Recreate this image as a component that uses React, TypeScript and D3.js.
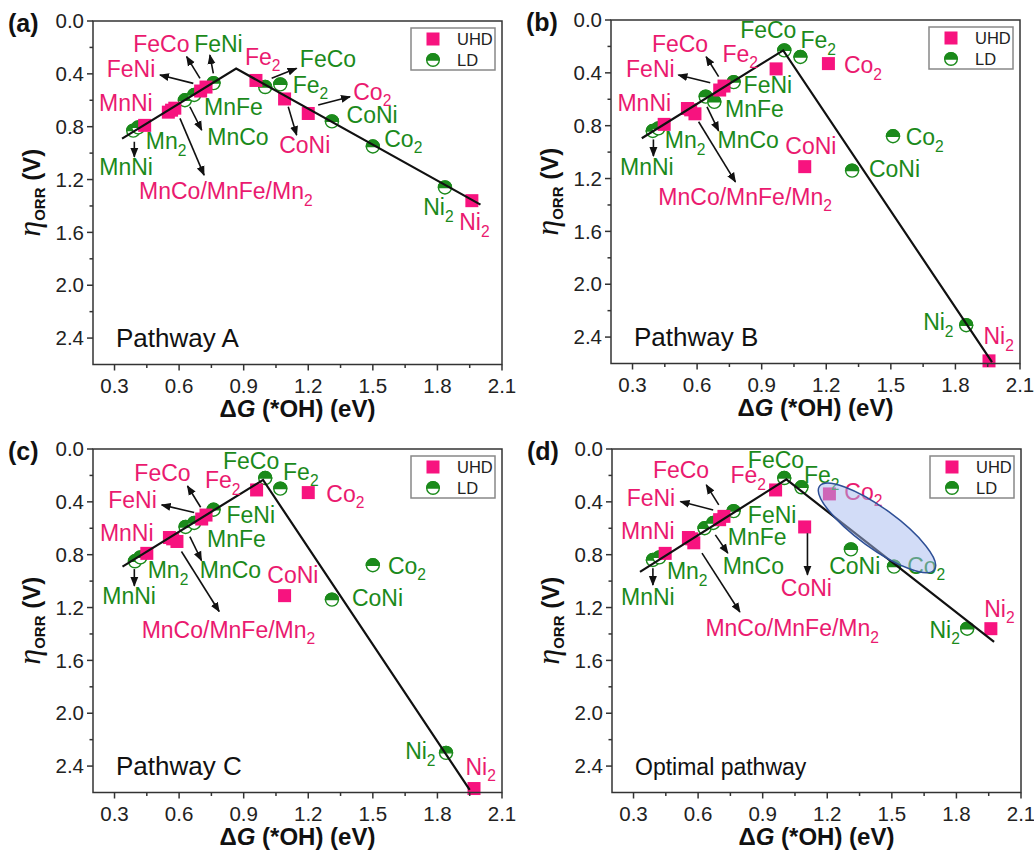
import React from "react";
import * as d3 from "d3";

// ---- data (ΔG(*OH) in eV, η_ORR in V) ----
const xTicks = [0.3, 0.6, 0.9, 1.2, 1.5, 1.8, 2.1];
const yTicks = [0.0, 0.4, 0.8, 1.2, 1.6, 2.0, 2.4];
const xMinor = [0.45, 0.75, 1.05, 1.35, 1.65, 1.95];
const yMinor = [0.2, 0.6, 1.0, 1.4, 1.8, 2.2];

const uhdA = [
  { n: "MnNi", x: 0.44, y: 0.79 }, { n: "MnCo", x: 0.55, y: 0.69 }, { n: "MnFe", x: 0.565, y: 0.675 },
  { n: "Mn2", x: 0.58, y: 0.66 }, { n: "FeNi", x: 0.70, y: 0.53 }, { n: "FeCo", x: 0.725, y: 0.50 },
  { n: "Fe2", x: 0.957, y: 0.45 }, { n: "CoNi", x: 1.09, y: 0.59 }, { n: "Co2", x: 1.20, y: 0.70 },
  { n: "Ni2", x: 1.96, y: 1.36 },
];
const ldA = [
  { n: "MnNi", x: 0.387, y: 0.83 }, { n: "Mn2", x: 0.41, y: 0.805 }, { n: "MnCo", x: 0.627, y: 0.60 },
  { n: "MnFe", x: 0.67, y: 0.56 }, { n: "FeNi", x: 0.76, y: 0.47 }, { n: "FeCo", x: 1.0, y: 0.50 },
  { n: "Fe2", x: 1.07, y: 0.48 }, { n: "CoNi", x: 1.31, y: 0.76 }, { n: "Co2", x: 1.50, y: 0.95 },
  { n: "Ni2", x: 1.835, y: 1.26 },
];
const uhdB = [
  { n: "MnNi", x: 0.447, y: 0.79 }, { n: "MnCo", x: 0.555, y: 0.67 }, { n: "MnFe", x: 0.57, y: 0.68 },
  { n: "Mn2", x: 0.59, y: 0.71 }, { n: "FeNi", x: 0.705, y: 0.53 }, { n: "FeCo", x: 0.725, y: 0.50 },
  { n: "Fe2", x: 0.967, y: 0.37 }, { n: "Co2", x: 1.21, y: 0.33 }, { n: "CoNi", x: 1.10, y: 1.11 },
  { n: "Ni2", x: 1.956, y: 2.58 },
];
const ldB = [
  { n: "MnNi", x: 0.394, y: 0.84 }, { n: "Mn2", x: 0.42, y: 0.82 }, { n: "MnCo", x: 0.64, y: 0.58 },
  { n: "MnFe", x: 0.68, y: 0.62 }, { n: "FeNi", x: 0.77, y: 0.47 }, { n: "FeCo", x: 1.005, y: 0.23 },
  { n: "Fe2", x: 1.08, y: 0.28 }, { n: "Co2", x: 1.51, y: 0.88 }, { n: "CoNi", x: 1.32, y: 1.14 },
  { n: "Ni2", x: 1.85, y: 2.31 },
];
const uhdC = [
  { n: "MnNi", x: 0.45, y: 0.79 }, { n: "MnCo", x: 0.555, y: 0.67 }, { n: "MnFe", x: 0.57, y: 0.68 },
  { n: "Mn2", x: 0.59, y: 0.70 }, { n: "FeNi", x: 0.705, y: 0.53 }, { n: "FeCo", x: 0.725, y: 0.50 },
  { n: "Fe2", x: 0.96, y: 0.31 }, { n: "Co2", x: 1.20, y: 0.33 }, { n: "CoNi", x: 1.09, y: 1.11 },
  { n: "Ni2", x: 1.97, y: 2.57 },
];
const ldC = [
  { n: "MnNi", x: 0.395, y: 0.85 }, { n: "Mn2", x: 0.42, y: 0.82 }, { n: "MnCo", x: 0.63, y: 0.59 },
  { n: "MnFe", x: 0.67, y: 0.56 }, { n: "FeNi", x: 0.76, y: 0.46 }, { n: "FeCo", x: 1.0, y: 0.22 },
  { n: "Fe2", x: 1.07, y: 0.30 }, { n: "Co2", x: 1.50, y: 0.88 }, { n: "CoNi", x: 1.31, y: 1.14 },
  { n: "Ni2", x: 1.84, y: 2.30 },
];
const uhdD = [
  { n: "MnNi", x: 0.447, y: 0.79 }, { n: "MnCo", x: 0.555, y: 0.67 }, { n: "MnFe", x: 0.57, y: 0.68 },
  { n: "Mn2", x: 0.58, y: 0.71 }, { n: "FeNi", x: 0.70, y: 0.535 }, { n: "FeCo", x: 0.72, y: 0.51 },
  { n: "Fe2", x: 0.96, y: 0.31 }, { n: "Co2", x: 1.21, y: 0.34 }, { n: "CoNi", x: 1.095, y: 0.59 },
  { n: "Ni2", x: 1.96, y: 1.36 },
];
const ldD = [
  { n: "MnNi", x: 0.39, y: 0.84 }, { n: "Mn2", x: 0.42, y: 0.82 }, { n: "MnCo", x: 0.63, y: 0.60 },
  { n: "MnFe", x: 0.67, y: 0.56 }, { n: "FeNi", x: 0.765, y: 0.47 }, { n: "FeCo", x: 1.0, y: 0.22 },
  { n: "Fe2", x: 1.08, y: 0.29 }, { n: "CoNi", x: 1.31, y: 0.76 }, { n: "Co2", x: 1.51, y: 0.89 },
  { n: "Ni2", x: 1.85, y: 1.36 },
];

// volcano lines
const lineA = [[0.335, 0.89], [0.865, 0.36], [2.0, 1.39]];
const lineB = [[0.343, 0.895], [1.0, 0.23], [1.97, 2.59]];
const lineC = [[0.337, 0.89], [0.99, 0.234], [1.95, 2.58]];
const lineD = [[0.33, 0.93], [1.01, 0.23], [1.975, 1.46]];

// text labels: text, x, y (left / baseline), u = UHD colour
const labelsA = [
  { t: "FeCo", x: 0.387, y: 0.232, u: 1 }, { t: "FeNi", x: 0.67, y: 0.232, u: 0 },
  { t: "Fe2", x: 0.906, y: 0.333, u: 1 }, { t: "FeCo", x: 1.161, y: 0.346, u: 0 },
  { t: "FeNi", x: 0.264, y: 0.427, u: 1 }, { t: "Fe2", x: 1.128, y: 0.543, u: 0 },
  { t: "Co2", x: 1.409, y: 0.598, u: 1 }, { t: "MnNi", x: 0.228, y: 0.682, u: 1 },
  { t: "MnFe", x: 0.716, y: 0.712, u: 0 }, { t: "CoNi", x: 1.378, y: 0.775, u: 0 },
  { t: "MnCo", x: 0.731, y: 0.939, u: 0 }, { t: "Mn2", x: 0.445, y: 0.972, u: 0 },
  { t: "CoNi", x: 1.065, y: 1.0, u: 1 }, { t: "Co2", x: 1.553, y: 0.952, u: 0 },
  { t: "MnNi", x: 0.229, y: 1.167, u: 0 }, { t: "MnCo/MnFe/Mn2", x: 0.414, y: 1.348, u: 1 },
  { t: "Ni2", x: 1.734, y: 1.47, u: 0 }, { t: "Ni2", x: 1.901, y: 1.583, u: 1 },
];
const labelsB = [
  { t: "FeCo", x: 0.80, y: 0.139, u: 0 }, { t: "Fe2", x: 1.08, y: 0.215, u: 0 },
  { t: "FeCo", x: 0.39, y: 0.24, u: 1 }, { t: "Fe2", x: 0.718, y: 0.316, u: 1 },
  { t: "Co2", x: 1.282, y: 0.404, u: 1 }, { t: "FeNi", x: 0.27, y: 0.434, u: 1 },
  { t: "FeNi", x: 0.816, y: 0.55, u: 0 }, { t: "MnNi", x: 0.23, y: 0.69, u: 1 },
  { t: "MnFe", x: 0.73, y: 0.732, u: 0 }, { t: "Co2", x: 1.569, y: 0.947, u: 0 },
  { t: "MnCo", x: 0.695, y: 0.972, u: 0 }, { t: "Mn2", x: 0.45, y: 0.972, u: 0 },
  { t: "CoNi", x: 1.01, y: 1.015, u: 1 }, { t: "MnNi", x: 0.242, y: 1.174, u: 0 },
  { t: "CoNi", x: 1.398, y: 1.187, u: 0 }, { t: "MnCo/MnFe/Mn2", x: 0.42, y: 1.40, u: 1 },
  { t: "Ni2", x: 1.65, y: 2.348, u: 0 }, { t: "Ni2", x: 1.93, y: 2.455, u: 1 },
];
const labelsC = [
  { t: "FeCo", x: 0.804, y: 0.154, u: 0 }, { t: "Fe2", x: 1.083, y: 0.234, u: 0 },
  { t: "FeCo", x: 0.392, y: 0.242, u: 1 }, { t: "Fe2", x: 0.72, y: 0.297, u: 1 },
  { t: "Co2", x: 1.284, y: 0.398, u: 1 }, { t: "FeNi", x: 0.271, y: 0.448, u: 1 },
  { t: "FeNi", x: 0.82, y: 0.562, u: 0 }, { t: "MnNi", x: 0.232, y: 0.693, u: 1 },
  { t: "MnFe", x: 0.73, y: 0.738, u: 0 }, { t: "Co2", x: 1.57, y: 0.945, u: 0 },
  { t: "MnCo", x: 0.696, y: 0.977, u: 0 }, { t: "Mn2", x: 0.454, y: 0.977, u: 0 },
  { t: "CoNi", x: 1.01, y: 1.015, u: 1 }, { t: "MnNi", x: 0.243, y: 1.174, u: 0 },
  { t: "CoNi", x: 1.403, y: 1.192, u: 0 }, { t: "MnCo/MnFe/Mn2", x: 0.426, y: 1.431, u: 1 },
  { t: "Ni2", x: 1.65, y: 2.35, u: 0 }, { t: "Ni2", x: 1.93, y: 2.464, u: 1 },
];
const labelsD = [
  { t: "FeCo", x: 0.831, y: 0.141, u: 0 }, { t: "Fe2", x: 1.092, y: 0.26, u: 0 },
  { t: "FeCo", x: 0.39, y: 0.222, u: 1 }, { t: "Fe2", x: 0.75, y: 0.26, u: 1 },
  { t: "Co2", x: 1.279, y: 0.386, u: 1 }, { t: "FeNi", x: 0.268, y: 0.431, u: 1 },
  { t: "FeNi", x: 0.831, y: 0.562, u: 0 }, { t: "MnNi", x: 0.242, y: 0.683, u: 1 },
  { t: "MnFe", x: 0.738, y: 0.726, u: 0 }, { t: "MnCo", x: 0.714, y: 0.947, u: 0 },
  { t: "CoNi", x: 1.209, y: 0.945, u: 0 }, { t: "Co2", x: 1.571, y: 0.945, u: 0 },
  { t: "Mn2", x: 0.455, y: 0.985, u: 0 }, { t: "CoNi", x: 0.984, y: 1.116, u: 1 },
  { t: "MnNi", x: 0.242, y: 1.179, u: 0 }, { t: "Ni2", x: 1.929, y: 1.268, u: 1 },
  { t: "MnCo/MnFe/Mn2", x: 0.634, y: 1.419, u: 1 }, { t: "Ni2", x: 1.675, y: 1.431, u: 0 },
];

// arrows [x1, y1, x2, y2]
const arrowsA = [
  [0.392, 0.914, 0.392, 1.028], [0.666, 0.472, 0.511, 0.409], [0.697, 0.434, 0.635, 0.27],
  [0.759, 0.396, 0.743, 0.258], [1.03, 0.434, 1.146, 0.358], [0.65, 0.649, 0.705, 0.826],
  [0.604, 0.737, 0.716, 1.167], [1.107, 0.649, 1.146, 0.864], [1.246, 0.636, 1.394, 0.573],
];
const arrowsB = [
  [0.397, 0.904, 0.397, 1.03], [0.661, 0.475, 0.513, 0.417], [0.70, 0.429, 0.642, 0.278],
  [0.646, 0.657, 0.70, 0.839], [0.607, 0.77, 0.778, 1.225],
];
const arrowsC = [
  [0.392, 0.909, 0.392, 1.036], [0.67, 0.481, 0.519, 0.423], [0.70, 0.441, 0.639, 0.28],
  [0.65, 0.663, 0.704, 0.844], [0.611, 0.776, 0.786, 1.23],
];
const arrowsD = [
  [0.39, 0.902, 0.39, 1.03], [0.67, 0.461, 0.518, 0.398], [0.696, 0.423, 0.638, 0.272],
  [0.68, 0.65, 0.738, 0.788], [0.618, 0.788, 0.794, 1.234], [1.108, 0.637, 1.108, 0.952],
];

const highlightD = { x: 1.431, y: 0.597 };

const PINK = "#f7137f";
const PINK_TXT = "#ea1a6f";
const GREEN = "#1b8a1b";
const FONT = "'Liberation Sans', Arial, sans-serif";

const W = 409;
const H = 343.5;

function Label({ x, y, text, color, size }) {
  const m = text.match(/^(.*?)(\d)$/);
  return (
    <text x={x} y={y} fill={color} fontSize={size} fontFamily={FONT}>
      {m ? (
        <>
          {m[1]}
          <tspan fontSize={size * 0.68} dy={size * 0.28}>{m[2]}</tspan>
        </>
      ) : text}
    </text>
  );
}

function LDMark({ cx, cy, r }) {
  return (
    <g>
      <circle cx={cx} cy={cy} r={r} fill="white" stroke={GREEN} strokeWidth={1.4} />
      <path d={`M${cx - r},${cy} A${r},${r} 0 0 1 ${cx + r},${cy} Z`} fill={GREEN} stroke={GREEN} strokeWidth={1.4} />
    </g>
  );
}

function Panel({ left, top, tag, uhd, ld, line, labels, arrows, note, noteSize, ellipse }) {
  const x = d3.scaleLinear().domain([0.2, 2.1]).range([left, left + W]);
  const y = d3.scaleLinear().domain([0, 2.6]).range([top, top + H]);
  const path = d3.line().x((d) => x(d[0])).y((d) => y(d[1]))(line);
  const bottom = top + H;
  const right = left + W;

  return (
    <g>
      <text x={left - 85} y={top + 11} fontSize={25} fontWeight="bold" fontFamily={FONT} fill="#111">{tag}</text>

      {/* scatter */}
      {ld.map((d, i) => <LDMark key={"l" + i} cx={x(d.x)} cy={y(d.y)} r={6.5} />)}
      {uhd.map((d, i) => (
        <rect key={"u" + i} x={x(d.x) - 6.5} y={y(d.y) - 6.5} width={13} height={13} fill={PINK} />
      ))}

      <path d={path} fill="none" stroke="#111" strokeWidth={2.2} />

      {arrows.map((a, i) => (
        <line key={"a" + i} x1={x(a[0])} y1={y(a[1])} x2={x(a[2])} y2={y(a[3])}
          stroke="#111" strokeWidth={1.6} markerEnd="url(#arrowhead)" />
      ))}

      {labels.map((l, i) => (
        <Label key={"t" + i} x={x(l.x)} y={y(l.y)} text={l.t} color={l.u ? PINK_TXT : GREEN} size={23} />
      ))}

      {ellipse && (
        <ellipse cx={x(ellipse.x)} cy={y(ellipse.y)} rx={71} ry={20}
          transform={`rotate(36 ${x(ellipse.x)} ${y(ellipse.y)})`}
          fill="rgba(165,185,240,0.5)" stroke="#2e4f96" strokeWidth={1.5} />
      )}

      <text x={left + 23} y={top + 326} fontSize={noteSize} fontFamily={FONT} fill="#111">{note}</text>

      {/* legend */}
      <rect x={right - 91} y={top + 7} width={84} height={42} fill="white" stroke="#888" strokeWidth={1.5} />
      <rect x={right - 75.5} y={top + 11.5} width={13} height={13} fill={PINK} />
      <LDMark cx={right - 69} cy={top + 39} r={6.3} />
      <text x={right - 45} y={top + 24} fontSize={16.5} fontFamily={FONT} fill="#222">UHD</text>
      <text x={right - 45} y={top + 45} fontSize={16.5} fontFamily={FONT} fill="#222">LD</text>

      {/* frame and ticks */}
      <rect x={left} y={top} width={W} height={H} fill="none" stroke="#333" strokeWidth={1.5} />
      {yTicks.map((t) => (
        <g key={"y" + t}>
          <line x1={left - 6} x2={left} y1={y(t)} y2={y(t)} stroke="#333" strokeWidth={1.5} />
          <text x={left - 9} y={y(t)} dy="0.35em" textAnchor="end" fontSize={20.5} fontFamily={FONT} fill="#222">
            {d3.format(".1f")(t)}
          </text>
        </g>
      ))}
      {yMinor.map((t) => (
        <line key={"ym" + t} x1={left - 3.5} x2={left} y1={y(t)} y2={y(t)} stroke="#333" strokeWidth={1.5} />
      ))}
      {xTicks.map((t) => (
        <g key={"x" + t}>
          <line x1={x(t)} x2={x(t)} y1={bottom} y2={bottom + 6} stroke="#333" strokeWidth={1.5} />
          <text x={x(t)} y={bottom + 28} textAnchor="middle" fontSize={20.5} fontFamily={FONT} fill="#222">
            {d3.format(".1f")(t)}
          </text>
        </g>
      ))}
      {xMinor.map((t) => (
        <line key={"xm" + t} x1={x(t)} x2={x(t)} y1={bottom} y2={bottom + 3.5} stroke="#333" strokeWidth={1.5} />
      ))}

      {/* axis titles */}
      <text x={(left + right) / 2} y={bottom + 52} textAnchor="middle" fontSize={24} fontWeight="bold" fontFamily={FONT} fill="#111">
        Δ<tspan fontStyle="italic">G</tspan> (*OH) (eV)
      </text>
      <text transform={`translate(${left - 53},${top + H / 2}) rotate(-90)`} textAnchor="middle" fill="#111" fontFamily={FONT}>
        <tspan fontSize={32} fontStyle="italic" fontFamily="'Liberation Serif', serif">η</tspan>
        <tspan fontSize={15} fontWeight="bold" dy={5}>ORR</tspan>
        <tspan fontSize={24} fontWeight="bold" dy={-5}> (V)</tspan>
      </text>
    </g>
  );
}

export default function App() {
  return (
    <svg width={1034} height={850} style={{ position: "absolute", left: 0, top: 0, background: "white" }}>
      <defs>
        <marker id="arrowhead" markerUnits="userSpaceOnUse" markerWidth={10} markerHeight={10}
          refX={9} refY={5} orient="auto" viewBox="0 0 10 10">
          <path d="M0,1 L10,5 L0,9 Z" fill="#111" />
        </marker>
      </defs>
      <Panel left={93} top={21} tag="(a)" uhd={uhdA} ld={ldA} line={lineA} labels={labelsA} arrows={arrowsA} note="Pathway A" noteSize={26} />
      <Panel left={611} top={20} tag="(b)" uhd={uhdB} ld={ldB} line={lineB} labels={labelsB} arrows={arrowsB} note="Pathway B" noteSize={26} />
      <Panel left={93} top={449} tag="(c)" uhd={uhdC} ld={ldC} line={lineC} labels={labelsC} arrows={arrowsC} note="Pathway C" noteSize={26} />
      <Panel left={612} top={449} tag="(d)" uhd={uhdD} ld={ldD} line={lineD} labels={labelsD} arrows={arrowsD} note="Optimal pathway" noteSize={23} ellipse={highlightD} />
    </svg>
  );
}
